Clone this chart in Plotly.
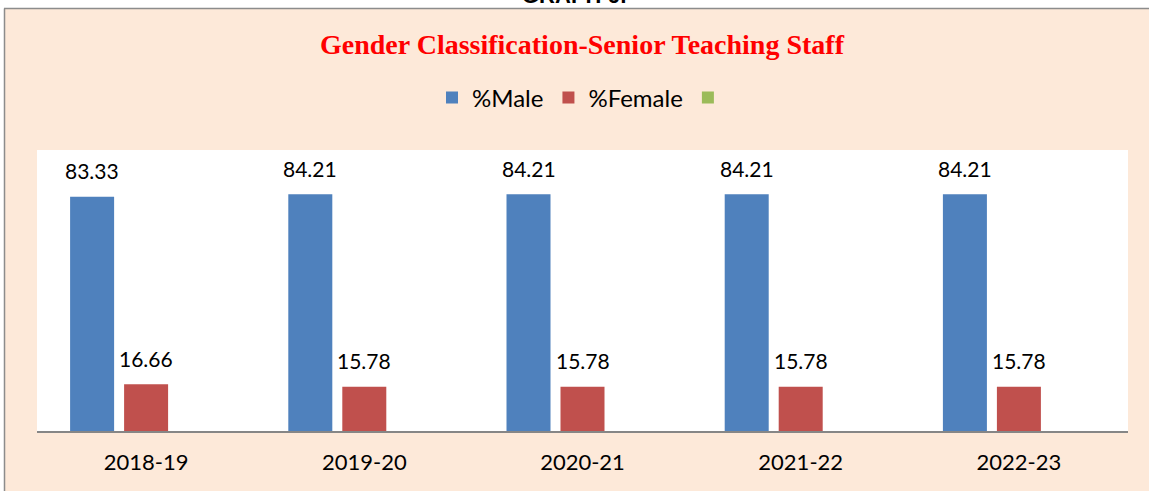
import plotly.graph_objects as go

# ---- data ----
years = ["2018-19", "2019-20", "2020-21", "2021-22", "2022-23"]
male = [83.33, 84.21, 84.21, 84.21, 84.21]
female = [16.66, 15.78, 15.78, 15.78, 15.78]
third = [None, None, None, None, None]
series_names = ["%Male", "%Female", ""]
series_colors = ["#4F81BD", "#C0504D", "#9BBB59"]

W, H = 1149, 491
ML, MR, MT, MB = 37, 21, 150, 60
BARGAP, BARGROUPGAP = 0.2576, 0.185
PEACH = "#FDE9D9"
BORDER = "#8C8C8C"

fig = go.Figure()
for name, vals, col in zip(series_names, [male, female, third], series_colors):
    fig.add_bar(x=years, y=vals, name=name, marker_color=col, marker_line_width=0)

# data labels above bars, via the axes' scales
plot_w = W - ML - MR
slot_px = plot_w / len(years) * (1 - BARGAP) / 3
label_font = dict(family="Lato", size=21, color="#000000")
annotations = []
for j, vals in enumerate([male, female]):
    for yr, v in zip(years, vals):
        annotations.append(dict(
            x=yr, y=v, xref="x", yref="y", text=f"{v:.2f}", showarrow=False,
            xshift=(j - 1) * slot_px, yshift=26, yanchor="middle",
            font=label_font))

ph = H - MT - MB
def px_x(px):
    return (px - ML) / plot_w
def px_y(py):
    return (H - MB - py) / ph

# partially visible page heading cut at the top edge (as in the reference)
annotations.append(dict(
    text="<b>GRAPH 6:</b>", xref="paper", yref="paper", x=px_x(574),
    y=px_y(-5), yanchor="middle", showarrow=False,
    font=dict(family="Liberation Sans", size=22, color="#000000")))

shapes = [
    # white strip above the chart frame and left of it
    dict(type="rect", xref="paper", yref="paper", x0=px_x(-5), x1=px_x(W + 5),
         y0=px_y(8), y1=px_y(-5), fillcolor="#FFFFFF", line_width=0, layer="below"),
    dict(type="rect", xref="paper", yref="paper", x0=px_x(-5), x1=px_x(4),
         y0=px_y(H + 5), y1=px_y(-5), fillcolor="#FFFFFF", line_width=0, layer="below"),
    # frame border
    dict(type="line", xref="paper", yref="paper", x0=px_x(4), x1=px_x(W + 5),
         y0=px_y(8.5), y1=px_y(8.5), line=dict(color=BORDER, width=1.5)),
    dict(type="line", xref="paper", yref="paper", x0=px_x(4.5), x1=px_x(4.5),
         y0=px_y(8.5), y1=px_y(H + 5), line=dict(color=BORDER, width=1.5)),
]

fig.update_layout(
    width=W, height=H,
    margin=dict(l=ML, r=MR, t=MT, b=MB),
    paper_bgcolor=PEACH, plot_bgcolor="#FFFFFF",
    barmode="group", bargap=BARGAP, bargroupgap=BARGROUPGAP,
    title=dict(text="<b>Gender Classification-Senior Teaching Staff</b>",
               x=(582 / W), xanchor="center", y=1 - 44 / H, yanchor="middle",
               yref="container",
               font=dict(family="Liberation Serif", size=28, color="#FF0000")),
    legend=dict(orientation="h", x=0.5, xanchor="center", y=px_y(98), yanchor="middle",
                font=dict(family="Lato", size=24, color="#000000"),
                bgcolor="rgba(0,0,0,0)"),
    annotations=annotations,
    shapes=shapes,
    showlegend=True,
)
fig.update_xaxes(showline=True, linecolor="#868686", linewidth=2, ticks="",
                 showgrid=False, ticklabelstandoff=11,
                 tickfont=dict(family="Lato", size=22, color="#000000"))
fig.update_yaxes(range=[0, 100], visible=False, showgrid=False, zeroline=False)

fig.write_html("out.html", config={"displayModeBar": False},
               post_script="document.body.style.margin='0';")
